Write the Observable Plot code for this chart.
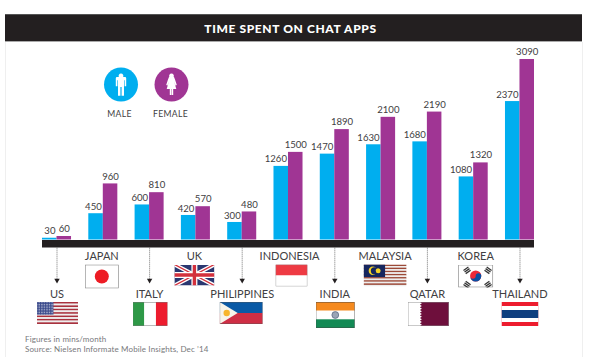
<!DOCTYPE html>
<html>
<head>
<meta charset="utf-8">
<script src="https://cdn.jsdelivr.net/npm/d3@7"></script>
<script src="https://cdn.jsdelivr.net/npm/@observablehq/plot@0.6"></script>
<style>
html,body{margin:0;padding:0;background:#fff;}
#wrap{position:relative;width:592px;height:357px;overflow:hidden;font-family:Lato,sans-serif;color:#414042;}
#frame{position:absolute;left:5px;top:42px;width:576px;height:315px;border-left:1px solid #efefef;border-right:1px solid #efefef;}
#title{position:absolute;left:5px;top:14px;width:577px;height:28px;background:#231f20;color:#fff;font-weight:900;font-size:12px;letter-spacing:.62px;line-height:27px;text-align:center;box-sizing:border-box;padding-right:6px;border-top:1px solid #555;border-bottom:1px solid #aaa;}
#legend{position:absolute;left:0;top:0;}
#note{position:absolute;left:25px;top:334px;font-size:8px;line-height:10px;color:#77787b;letter-spacing:.13px;white-space:nowrap;}
#chart{position:absolute;left:0;top:0;}
</style>
</head>
<body>
<div id="wrap">
  <div id="frame"></div>
  <div id="chart"></div>
  <div id="title">TIME SPENT ON CHAT APPS</div>
  <svg id="legend" width="240" height="125" style="font-family:Lato,sans-serif">
    <circle cx="121" cy="84.5" r="17" fill="#00aeef"/>
    <path fill="#fff" d="M121 73.5a2.4 2.4 0 1 1-.01 0zM117 77h8a1.2 1.2 0 0 1 1.2 1.2v8h-1.6v-6h-.6v15.5h-2.4v-8.7h-1.2v8.7h-2.4v-15.5h-.6v6h-1.6v-8a1.2 1.2 0 0 1 1.2-1.2z"/>
    <circle cx="171.5" cy="84.5" r="17" fill="#a03594"/>
    <path fill="#fff" d="M171.5 73.5a2.4 2.4 0 1 1-.01 0zM169 77h5l1 2.5 1.8 5.5-1.3.5-1.4-4 2.2 7.5h-3.1v6h-1.5v-6h-.4v6h-1.5v-6h-3.1l2.2-7.5-1.4 4-1.3-.5 1.8-5.5z"/>
    <text x="119.5" y="117" text-anchor="middle" font-size="8.6" fill="#414042" letter-spacing=".3">MALE</text>
    <text x="170.5" y="117" text-anchor="middle" font-size="8.6" fill="#414042" letter-spacing=".3">FEMALE</text>
  </svg>
  <div id="note">Figures in mins/month<br>Source: Nielsen Informate Mobile Insights, Dec ’14</div>
</div>
<script>
// ---- data ----
const countries = ["US","JAPAN","ITALY","UK","PHILIPPINES","INDONESIA","INDIA","MALAYSIA","QATAR","KOREA","THAILAND"];
const male   = [30,450,600,420,300,1260,1470,1630,1680,1080,2370];
const female = [60,960,810,570,480,1500,1890,2100,2190,1320,3090];

// ---- flag artwork ----
const usStripes = d3.range(13).map(i=>`<rect y="${i*2}" width="50" height="2" fill="${i%2?"#eee":"#a8323e"}"/>`).join("");
const usStars = d3.range(8).flatMap(r=>d3.range(10).map(c=>`<circle cx="${1.2+c*2}" cy="${1+r*1.9}" r=".55" fill="#fff"/>`)).join("");
const myStripes = d3.range(14).map(i=>`<rect y="${i*2}" width="56" height="2" fill="${i%2?"#eee":"#9c4a38"}"/>`).join("");
const koTri = (x,y,a)=>`<g transform="translate(${x} ${y}) rotate(${a})" fill="#333"><rect x="-4" y="-3.4" width="8" height="1.7"/><rect x="-4" y="-.85" width="8" height="1.7"/><rect x="-4" y="1.7" width="8" height="1.7"/></g>`;
const flagArt = {
  US:`<svg xmlns="http://www.w3.org/2000/svg" viewBox="0 0 50 26" preserveAspectRatio="none">${usStripes}<rect width="20" height="15" fill="#3a4a8c"/>${usStars}</svg>`,
  JAPAN:`<svg xmlns="http://www.w3.org/2000/svg" viewBox="0 0 34 24" preserveAspectRatio="none"><rect x=".4" y=".4" width="33.2" height="23.2" fill="#fff" stroke="#888" stroke-width=".8"/><circle cx="17" cy="12" r="7" fill="#ed1c24"/></svg>`,
  ITALY:`<svg xmlns="http://www.w3.org/2000/svg" viewBox="0 0 36 24" preserveAspectRatio="none"><rect width="12" height="24" fill="#2e9947"/><rect x="12" width="12" height="24" fill="#fff"/><rect x="24" width="12" height="24" fill="#ed1c2e"/><rect x=".3" y=".3" width="35.4" height="23.4" fill="none" stroke="#777" stroke-width=".5"/></svg>`,
  UK:`<svg xmlns="http://www.w3.org/2000/svg" viewBox="0 0 40 21" preserveAspectRatio="none"><rect width="40" height="21" fill="#2a3770"/><path d="M0 0L40 21M40 0L0 21" stroke="#fff" stroke-width="4"/><path d="M0 0L40 21M40 0L0 21" stroke="#d3303c" stroke-width="1.4"/><path d="M20 0V21M0 10.5H40" stroke="#fff" stroke-width="6"/><path d="M20 0V21M0 10.5H40" stroke="#d3303c" stroke-width="3.4"/></svg>`,
  PHILIPPINES:`<svg xmlns="http://www.w3.org/2000/svg" viewBox="0 0 43 22" preserveAspectRatio="none"><rect width="43" height="11" fill="#0a5aa6"/><rect y="11" width="43" height="11" fill="#cf2e45"/><path d="M0 0L18 11L0 22Z" fill="#f7f4ea"/><circle cx="7" cy="11" r="3.2" fill="#f7b52c"/><rect x=".2" y=".2" width="42.6" height="21.6" fill="none" stroke="#555" stroke-width=".4"/></svg>`,
  INDONESIA:`<svg xmlns="http://www.w3.org/2000/svg" viewBox="0 0 32 22" preserveAspectRatio="none"><rect width="32" height="11" fill="#ee3a43"/><rect y="11" width="32" height="11" fill="#fff"/><rect x=".3" y=".3" width="31.4" height="21.4" fill="none" stroke="#888" stroke-width=".6"/></svg>`,
  INDIA:`<svg xmlns="http://www.w3.org/2000/svg" viewBox="0 0 39 26" preserveAspectRatio="none"><rect width="39" height="8.7" fill="#f58a1f"/><rect y="8.7" width="39" height="8.6" fill="#fff"/><rect y="17.3" width="39" height="8.7" fill="#138a55"/><circle cx="19.5" cy="13" r="3.4" fill="#9aa4b5" stroke="#5d6b85" stroke-width=".8"/><rect x=".2" y=".2" width="38.6" height="25.6" fill="none" stroke="#444" stroke-width=".5"/></svg>`,
  MALAYSIA:`<svg xmlns="http://www.w3.org/2000/svg" viewBox="0 0 56 28" preserveAspectRatio="none">${myStripes}<rect width="28" height="16" fill="#16265e"/><circle cx="12" cy="8" r="5.4" fill="#f5d327"/><circle cx="14" cy="8" r="4.6" fill="#16265e"/><circle cx="19" cy="8" r="3.2" fill="#f5d327"/></svg>`,
  QATAR:`<svg xmlns="http://www.w3.org/2000/svg" viewBox="0 0 41 24" preserveAspectRatio="none"><rect width="41" height="24" fill="#6e0f3c"/><path d="M0 0H12L14 1.3L12 2.7L14 4L12 5.3L14 6.7L12 8L14 9.3L12 10.7L14 12L12 13.3L14 14.7L12 16L14 17.3L12 18.7L14 20L12 21.3L14 22.7L12 24H0Z" fill="#fff"/><rect x=".2" y=".2" width="40.6" height="23.6" fill="none" stroke="#888" stroke-width=".5"/></svg>`,
  KOREA:`<svg xmlns="http://www.w3.org/2000/svg" viewBox="0 0 35 23" preserveAspectRatio="none"><rect x=".4" y=".4" width="34.2" height="22.2" fill="#fff" stroke="#888" stroke-width=".8"/><circle cx="17.5" cy="11.5" r="5.6" fill="#ed2939"/><path d="M11.9 11.5a5.6 5.6 0 0 0 11.2 0a2.8 2.8 0 0 0-5.6 0a2.8 2.8 0 0 1-5.6 0z" fill="#0a4ea2"/><g transform="scale(.75) translate(5.8 3.8)">${koTri(6,4,-35)}${koTri(34,4,35)}${koTri(6,23,35)}${koTri(34,23,-35)}</g></svg>`,
  THAILAND:`<svg xmlns="http://www.w3.org/2000/svg" viewBox="0 0 37 24" preserveAspectRatio="none"><rect width="37" height="24" fill="#ed1c2e"/><rect y="4" width="37" height="16" fill="#fff"/><rect y="8" width="37" height="8" fill="#0f3f7f"/></svg>`
};

// ---- layout of the flags below the axis (px) ----
const flagSize = {US:[41,22],JAPAN:[34,24],ITALY:[35,24],UK:[40,21],PHILIPPINES:[43,22],INDONESIA:[32,22],INDIA:[39,26],MALAYSIA:[43,22],QATAR:[41,24],KOREA:[35,23],THAILAND:[37,24]};
const flagShift = {US:.5,JAPAN:-1.5,ITALY:.5,UK:-1.5,PHILIPPINES:-1,INDONESIA:3,INDIA:.5,MALAYSIA:4,QATAR:1,KOREA:2,THAILAND:0};
const labelShift = {JAPAN:-1.5,UK:-1.5,INDONESIA:1,MALAYSIA:4,KOREA:2};

const barRows = countries.map((c,i)=>({country:c,male:male[i],female:female[i]}));
const lower = countries.filter((c,i)=>i%2===0);
const upper = countries.filter((c,i)=>i%2===1);
const half = 14.5;

const shiftedText = (list,dy)=>Array.from(d3.group(list,c=>labelShift[c]||0),([dx,cs])=>Plot.text(cs,{x:d=>d,y:()=>0,text:d=>d,dx,dy,fontSize:11,fill:"#414042",letterSpacing:.1}));
const flagMark = (list,dyTop)=>list.map(c=>{
  const [w,h]=flagSize[c];
  return Plot.image([c],{x:d=>d,y:()=>0,dx:flagShift[c]||0,dy:dyTop+h/2,width:w,height:h,preserveAspectRatio:"none",src:d=>"data:image/svg+xml,"+encodeURIComponent(flagArt[d])});
});

const plot = Plot.plot({
  width:592,height:357,
  marginLeft:42,marginRight:58,marginTop:0,marginBottom:0,
  style:{background:"transparent",fontFamily:"Lato,sans-serif"},
  x:{domain:countries,range:[42,534],paddingInner:.373,paddingOuter:0,round:false,axis:null},
  y:{domain:[0,3090],range:[239.5,59],axis:null},
  marks:[
    Plot.barY(barRows,{x:"country",y:"male",fill:"#00aeef",insetRight:half}),
    Plot.barY(barRows,{x:"country",y:"female",fill:"#a03594",insetLeft:half}),
    Plot.ruleY([0],{stroke:"#231f20",strokeWidth:7.5,dy:3.75}),
    Plot.text(barRows,{x:"country",y:"male",text:d=>String(d.male),textAnchor:"end",dx:-1.5,dy:-7,fontSize:9.6,fill:"#414042"}),
    Plot.text(barRows,{x:"country",y:"female",text:d=>String(d.female),dx:half/2,dy:-7.5,fontSize:9.6,fill:"#414042"}),
    Plot.ruleX(lower,{x:d=>d,y1:()=>-140,y2:()=>-690,stroke:"#555",strokeWidth:.8,strokeDasharray:"1,1"}),
    Plot.dot(lower,{x:d=>d,y:()=>-690,symbol:"triangle",rotate:180,r:2,fill:"#231f20",stroke:"none"}),
    ...shiftedText(upper,16.5),
    ...shiftedText(lower,54.5),
    ...flagMark(upper,24.5),
    ...flagMark(lower,62)
  ]
});
document.getElementById("chart").append(plot);
</script>
</body>
</html>
